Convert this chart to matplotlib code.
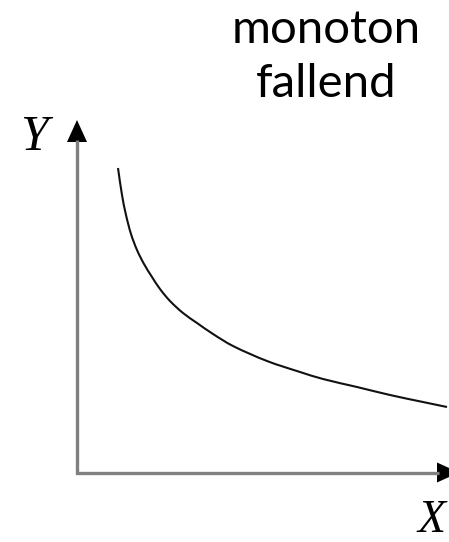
import matplotlib
matplotlib.use('Agg')
import matplotlib.pyplot as plt
from matplotlib.path import Path
from matplotlib.patches import PathPatch
import numpy as np

# curve (axis units: 1 unit = 100 px, origin at axis corner)
curve_x = [0.41, 0.45, 0.49, 0.54, 0.60, 0.67, 0.75, 0.83, 0.93, 1.06,
           1.20, 1.36, 1.56, 1.90, 2.23, 2.46, 2.80, 3.13, 3.46, 3.70]
curve_y = [3.045, 2.775, 2.575, 2.385, 2.225, 2.085, 1.955, 1.835, 1.715, 1.595,
           1.495, 1.385, 1.265, 1.115, 1.005, 0.935, 0.855, 0.775, 0.705, 0.655]

title_lines = ["monoton", "fallend"]
x_label = "X"
y_label = "Y"

# axis extents
y_tip = 3.525
x_tip = 3.82
head_len = 0.22
head_half = 0.10


def smooth_path(xs, ys):
    """Hermite spline (chord-length parameter) through the points as bezier segments."""
    pts = np.column_stack([xs, ys])
    seg = np.linalg.norm(np.diff(pts, axis=0), axis=1)
    t = np.concatenate([[0], np.cumsum(seg)])
    n = len(pts)
    tang = np.zeros_like(pts)
    tang[0] = (pts[1] - pts[0]) / (t[1] - t[0])
    tang[-1] = (pts[-1] - pts[-2]) / (t[-1] - t[-2])
    for i in range(1, n - 1):
        tang[i] = (pts[i + 1] - pts[i - 1]) / (t[i + 1] - t[i - 1])
    verts = [pts[0]]
    codes = [Path.MOVETO]
    for i in range(n - 1):
        dt = t[i + 1] - t[i]
        verts += [pts[i] + tang[i] * dt / 3, pts[i + 1] - tang[i + 1] * dt / 3, pts[i + 1]]
        codes += [Path.CURVE4] * 3
    return Path(verts, codes)


fig = plt.figure(figsize=(4.49, 5.42), dpi=100)
ax = fig.add_axes([0, 0, 1, 1])
ax.set_xlim(-0.77, 3.72)
ax.set_ylim(-0.695, 4.725)
ax.axis('off')

axis_grey = '#808080'
# axes shafts
ax.plot([0, 0, x_tip - head_len + 0.02], [y_tip - head_len + 0.02, 0, 0],
        color=axis_grey, lw=2.4, solid_joinstyle='miter', solid_capstyle='butt')
# arrow heads
ax.fill([-head_half, 0, head_half], [y_tip - head_len, y_tip, y_tip - head_len],
        color='black', lw=0)
ax.fill([x_tip - head_len, x_tip, x_tip - head_len], [-head_half, 0, head_half],
        color='black', lw=0)

# monotonically falling curve
ax.add_patch(PathPatch(smooth_path(curve_x, curve_y), facecolor='none',
                       edgecolor='#111111', lw=1.5, capstyle='butt'))

# labels
ax.text(-0.57, 3.225, y_label, family='Liberation Serif', style='italic',
        fontsize=36, ha='left', va='baseline')
ax.text(3.41, -0.59, x_label, family='Liberation Serif', style='italic',
        fontsize=33, ha='left', va='baseline')

ax.text(2.49, 4.295, title_lines[0], family='Lato', fontsize=34,
        ha='center', va='baseline')
ax.text(2.49, 3.755, title_lines[1], family='Lato', fontsize=34,
        ha='center', va='baseline')

fig.savefig('out.png', dpi=100)
